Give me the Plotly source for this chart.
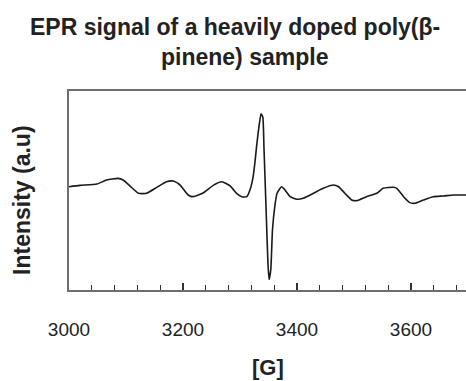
import plotly.graph_objects as go

# Magnetic field [G]
field = [3000, 3019, 3049, 3066, 3086, 3095, 3107, 3122, 3136, 3154, 3171, 3183,
         3195, 3209, 3218, 3236, 3253, 3268, 3283, 3294, 3303, 3312, 3318, 3323,
         3326, 3329, 3334, 3337, 3340, 3342, 3346, 3349, 3351, 3354, 3357, 3361,
         3365, 3373, 3379, 3388, 3400, 3411, 3429, 3446, 3464, 3473, 3484, 3496,
         3505, 3522, 3540, 3551, 3569, 3575, 3587, 3598, 3607, 3622, 3639, 3657,
         3674, 3692, 3700]
# EPR signal intensity (a.u.)
intensity = [103.8, 105.2, 106.5, 110.5, 112.2, 110.5, 104.5, 97.2, 97.2, 103.2, 108.8, 109.5,
             105.5, 95.5, 93.8, 97.8, 105.2, 108.8, 104.5, 97.2, 93.8, 93.8, 101.5, 113.8,
             127.2, 143.8, 167.2, 177.2, 173.8, 143.8, 77.2, 27.2, 10.5, 20.5, 60.5, 83.8,
             97.2, 103.8, 100.5, 93.8, 91.2, 92.2, 97.2, 102.2, 105.5, 103.8, 97.2, 90.5,
             89.8, 93.8, 97.2, 102.2, 103.2, 102.2, 93.8, 87.8, 87.2, 90.5, 93.8, 94.5,
             95.5, 95.5, 95.5]

x_range = [3000, 3696.5]
y_range = [0, 200]
x_ticks = [3000, 3200, 3400, 3600]

title_lines = ["EPR signal of a heavily doped poly(β-", "pinene) sample"]
x_title = "[G]"
y_title = "Intensity (a.u)"

W, H = 466, 381
L, R, T, B = 69, 0, 90.5, 90.5
FONT = "Liberation Sans, Arial, sans-serif"
TXT = "#222222"
FRAME = "#6e6e6e"

fig = go.Figure()
fig.add_trace(go.Scatter(x=field, y=intensity, mode="lines",
                         line=dict(color="#1a1a1a", width=1.6, shape="spline", smoothing=0.5),
                         showlegend=False, hoverinfo="skip"))

fig.update_layout(
    width=W, height=H,
    margin=dict(l=L, r=R, t=T, b=B, pad=0),
    paper_bgcolor="white", plot_bgcolor="white",
    font=dict(family=FONT, color=TXT),
    showlegend=False,
)

fig.update_xaxes(
    range=x_range, showgrid=False, zeroline=False,
    showline=True, linecolor=FRAME, linewidth=2, mirror=True,
    tickmode="array", tickvals=x_ticks, ticktext=[str(v) for v in x_ticks],
    ticks="inside", ticklen=7, tickwidth=1.5, tickcolor="#333333",
    tickfont=dict(size=19, color=TXT, family=FONT),
    ticklabelstandoff=21,
    minor=dict(ticks="inside", dtick=40, tick0=3000, ticklen=5, tickwidth=1.2,
               tickcolor="#333333", showgrid=False),
)
fig.update_yaxes(
    range=y_range, showgrid=False, zeroline=False,
    showline=True, linecolor=FRAME, linewidth=2, mirror=False,
    showticklabels=False, ticks="",
)

plot_w = W - L - R
plot_h = H - T - B

def px_x(px):
    return (px - L) / plot_w

def px_y(py):
    return (H - B - py) / plot_h

# Title lines
for line, cx, cy in zip(title_lines, [235, 244], [26, 56]):
    fig.add_annotation(text=f"<b>{line}</b>", xref="paper", yref="paper",
                       x=px_x(cx), y=px_y(cy), xanchor="center", yanchor="middle",
                       showarrow=False, font=dict(size=23, color=TXT, family=FONT))

# x-axis title
fig.add_annotation(text=f"<b>{x_title}</b>", xref="paper", yref="paper",
                   x=px_x(268), y=px_y(368), xanchor="center", yanchor="middle",
                   showarrow=False, font=dict(size=22, color=TXT, family=FONT))

# y-axis title
fig.add_annotation(text=f"<b>{y_title}</b>", xref="paper", yref="paper",
                   x=px_x(22), y=px_y(200), xanchor="center", yanchor="middle",
                   textangle=-90, showarrow=False,
                   font=dict(size=23, color=TXT, family=FONT))

fig.write_html("out.html")
